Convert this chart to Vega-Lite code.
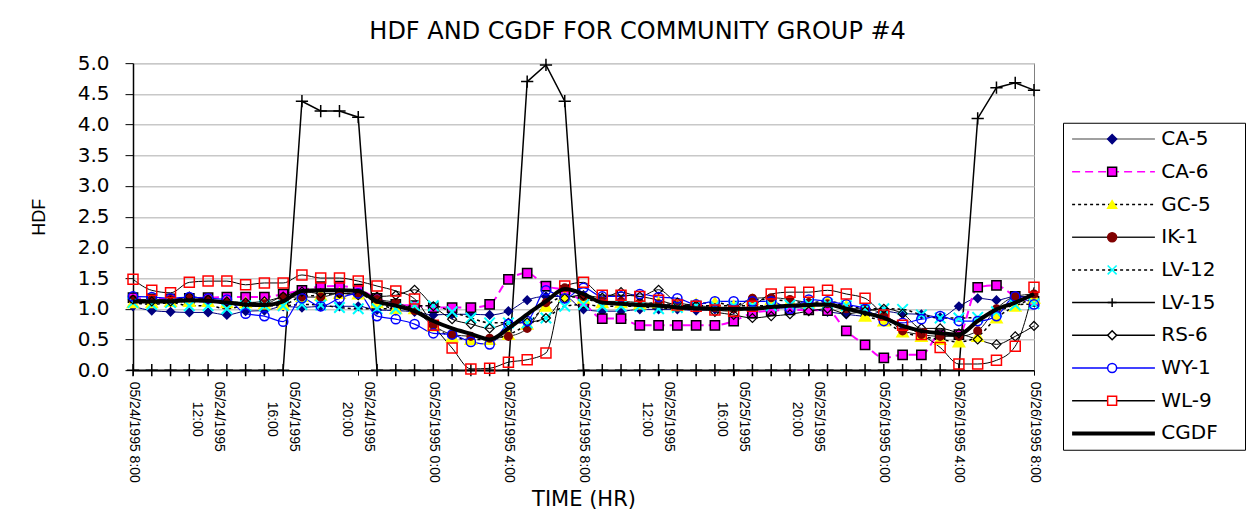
{
  "$schema": "https://vega.github.io/schema/vega-lite/v6.json",
  "background": "white",
  "padding": {"left": 29, "top": 19, "right": 1, "bottom": 8},
  "title": {"text": "HDF AND CGDF FOR COMMUNITY GROUP #4", "font": "DejaVu Sans", "fontSize": 24, "fontWeight": "normal", "color": "black", "anchor": "middle", "offset": 9},
  "datasets": {
    "main": [
      {"t":"1995-05-24T08:00","CA-5":1.04,"CA-6":1.18,"GC-5":1.10,"IK-1":1.15,"LV-12":1.10,"LV-15":0,"RS-6":1.15,"WY-1":1.20,"WL-9":1.48,"CGDF":1.12},
      {"t":"1995-05-24T09:00","CA-5":0.97,"CA-6":1.16,"GC-5":1.10,"IK-1":1.15,"LV-12":1.07,"LV-15":0,"RS-6":1.12,"WY-1":1.19,"WL-9":1.30,"CGDF":1.12},
      {"t":"1995-05-24T10:00","CA-5":0.95,"CA-6":1.16,"GC-5":1.12,"IK-1":1.15,"LV-12":1.10,"LV-15":0,"RS-6":1.12,"WY-1":1.17,"WL-9":1.26,"CGDF":1.12},
      {"t":"1995-05-24T11:00","CA-5":0.94,"CA-6":1.17,"GC-5":1.12,"IK-1":1.19,"LV-12":1.05,"LV-15":0,"RS-6":1.20,"WY-1":1.19,"WL-9":1.43,"CGDF":1.14},
      {"t":"1995-05-24T12:00","CA-5":0.94,"CA-6":1.18,"GC-5":1.12,"IK-1":1.15,"LV-12":1.05,"LV-15":0,"RS-6":1.15,"WY-1":1.17,"WL-9":1.45,"CGDF":1.13},
      {"t":"1995-05-24T13:00","CA-5":0.90,"CA-6":1.19,"GC-5":1.10,"IK-1":1.10,"LV-12":1.00,"LV-15":0,"RS-6":1.12,"WY-1":1.15,"WL-9":1.45,"CGDF":1.10},
      {"t":"1995-05-24T14:00","CA-5":0.96,"CA-6":1.19,"GC-5":1.10,"IK-1":1.08,"LV-12":1.05,"LV-15":0,"RS-6":1.10,"WY-1":0.92,"WL-9":1.39,"CGDF":1.07},
      {"t":"1995-05-24T15:00","CA-5":0.97,"CA-6":1.19,"GC-5":1.08,"IK-1":1.08,"LV-12":1.05,"LV-15":0,"RS-6":1.12,"WY-1":0.88,"WL-9":1.42,"CGDF":1.06},
      {"t":"1995-05-24T16:00","CA-5":1.04,"CA-6":1.24,"GC-5":1.07,"IK-1":1.19,"LV-12":1.05,"LV-15":0,"RS-6":1.20,"WY-1":0.79,"WL-9":1.42,"CGDF":1.12},
      {"t":"1995-05-24T17:00","CA-5":1.02,"CA-6":1.30,"GC-5":1.20,"IK-1":1.19,"LV-12":1.07,"LV-15":4.38,"RS-6":1.28,"WY-1":1.17,"WL-9":1.55,"CGDF":1.29},
      {"t":"1995-05-24T18:00","CA-5":1.04,"CA-6":1.36,"GC-5":1.22,"IK-1":1.19,"LV-12":1.06,"LV-15":4.22,"RS-6":1.25,"WY-1":1.04,"WL-9":1.50,"CGDF":1.30},
      {"t":"1995-05-24T19:00","CA-5":1.04,"CA-6":1.37,"GC-5":1.25,"IK-1":1.25,"LV-12":1.02,"LV-15":4.22,"RS-6":1.25,"WY-1":1.17,"WL-9":1.50,"CGDF":1.30},
      {"t":"1995-05-24T20:00","CA-5":1.04,"CA-6":1.32,"GC-5":1.24,"IK-1":1.24,"LV-12":1.00,"LV-15":4.12,"RS-6":1.22,"WY-1":1.25,"WL-9":1.45,"CGDF":1.29},
      {"t":"1995-05-24T21:00","CA-5":0.98,"CA-6":1.17,"GC-5":1.10,"IK-1":1.15,"LV-12":1.00,"LV-15":0,"RS-6":1.20,"WY-1":0.88,"WL-9":1.37,"CGDF":1.12},
      {"t":"1995-05-24T22:00","CA-5":0.97,"CA-6":1.07,"GC-5":1.00,"IK-1":1.10,"LV-12":1.00,"LV-15":0,"RS-6":1.22,"WY-1":0.83,"WL-9":1.29,"CGDF":1.05},
      {"t":"1995-05-24T23:00","CA-5":0.95,"CA-6":1.05,"GC-5":1.00,"IK-1":0.97,"LV-12":1.05,"LV-15":0,"RS-6":1.31,"WY-1":0.75,"WL-9":1.16,"CGDF":0.96},
      {"t":"1995-05-25T00:00","CA-5":0.90,"CA-6":1.02,"GC-5":0.72,"IK-1":0.73,"LV-12":1.05,"LV-15":0,"RS-6":1.04,"WY-1":0.60,"WL-9":0.73,"CGDF":0.80},
      {"t":"1995-05-25T01:00","CA-5":0.91,"CA-6":1.02,"GC-5":0.54,"IK-1":0.58,"LV-12":0.95,"LV-15":0,"RS-6":0.83,"WY-1":0.58,"WL-9":0.36,"CGDF":0.68},
      {"t":"1995-05-25T02:00","CA-5":0.91,"CA-6":1.02,"GC-5":0.50,"IK-1":0.55,"LV-12":0.85,"LV-15":0,"RS-6":0.75,"WY-1":0.46,"WL-9":0.02,"CGDF":0.59},
      {"t":"1995-05-25T03:00","CA-5":0.90,"CA-6":1.07,"GC-5":0.50,"IK-1":0.52,"LV-12":0.77,"LV-15":0,"RS-6":0.68,"WY-1":0.42,"WL-9":0.03,"CGDF":0.50},
      {"t":"1995-05-25T04:00","CA-5":0.96,"CA-6":1.48,"GC-5":0.58,"IK-1":0.55,"LV-12":0.77,"LV-15":0,"RS-6":0.77,"WY-1":0.75,"WL-9":0.13,"CGDF":0.68},
      {"t":"1995-05-25T05:00","CA-5":1.14,"CA-6":1.58,"GC-5":0.75,"IK-1":0.68,"LV-12":0.77,"LV-15":4.70,"RS-6":0.78,"WY-1":0.80,"WL-9":0.17,"CGDF":0.91},
      {"t":"1995-05-25T06:00","CA-5":1.20,"CA-6":1.37,"GC-5":1.04,"IK-1":1.10,"LV-12":0.85,"LV-15":4.97,"RS-6":0.85,"WY-1":1.30,"WL-9":0.28,"CGDF":1.12},
      {"t":"1995-05-25T07:00","CA-5":1.20,"CA-6":1.30,"GC-5":1.20,"IK-1":1.34,"LV-12":1.04,"LV-15":4.38,"RS-6":1.17,"WY-1":1.17,"WL-9":1.37,"CGDF":1.32},
      {"t":"1995-05-25T08:00","CA-5":0.99,"CA-6":1.10,"GC-5":1.17,"IK-1":1.20,"LV-12":1.07,"LV-15":0,"RS-6":1.22,"WY-1":1.34,"WL-9":1.43,"CGDF":1.24},
      {"t":"1995-05-25T09:00","CA-5":0.96,"CA-6":0.84,"GC-5":1.10,"IK-1":1.12,"LV-12":1.04,"LV-15":0,"RS-6":1.18,"WY-1":1.20,"WL-9":1.22,"CGDF":1.10},
      {"t":"1995-05-25T10:00","CA-5":0.96,"CA-6":0.84,"GC-5":1.10,"IK-1":1.12,"LV-12":1.04,"LV-15":0,"RS-6":1.27,"WY-1":1.20,"WL-9":1.22,"CGDF":1.08},
      {"t":"1995-05-25T11:00","CA-5":0.99,"CA-6":0.73,"GC-5":1.08,"IK-1":1.10,"LV-12":1.04,"LV-15":0,"RS-6":1.20,"WY-1":1.24,"WL-9":1.20,"CGDF":1.06},
      {"t":"1995-05-25T12:00","CA-5":0.99,"CA-6":0.73,"GC-5":1.10,"IK-1":1.08,"LV-12":1.00,"LV-15":0,"RS-6":1.31,"WY-1":1.19,"WL-9":1.14,"CGDF":1.05},
      {"t":"1995-05-25T13:00","CA-5":0.99,"CA-6":0.73,"GC-5":1.05,"IK-1":1.05,"LV-12":1.02,"LV-15":0,"RS-6":1.10,"WY-1":1.17,"WL-9":1.06,"CGDF":1.02},
      {"t":"1995-05-25T14:00","CA-5":0.97,"CA-6":0.73,"GC-5":1.08,"IK-1":1.05,"LV-12":1.05,"LV-15":0,"RS-6":1.05,"WY-1":1.07,"WL-9":1.04,"CGDF":1.01},
      {"t":"1995-05-25T15:00","CA-5":0.99,"CA-6":0.73,"GC-5":1.10,"IK-1":1.02,"LV-12":1.05,"LV-15":0,"RS-6":0.95,"WY-1":1.12,"WL-9":0.98,"CGDF":1.00},
      {"t":"1995-05-25T16:00","CA-5":0.99,"CA-6":0.80,"GC-5":1.05,"IK-1":1.00,"LV-12":1.05,"LV-15":0,"RS-6":0.90,"WY-1":1.12,"WL-9":0.96,"CGDF":1.00},
      {"t":"1995-05-25T17:00","CA-5":1.00,"CA-6":0.93,"GC-5":1.15,"IK-1":1.17,"LV-12":1.05,"LV-15":0,"RS-6":0.85,"WY-1":1.12,"WL-9":1.04,"CGDF":1.00},
      {"t":"1995-05-25T18:00","CA-5":1.00,"CA-6":0.97,"GC-5":1.15,"IK-1":1.18,"LV-12":1.05,"LV-15":0,"RS-6":0.88,"WY-1":1.12,"WL-9":1.24,"CGDF":1.03},
      {"t":"1995-05-25T19:00","CA-5":1.02,"CA-6":0.98,"GC-5":1.12,"IK-1":1.15,"LV-12":1.06,"LV-15":0,"RS-6":0.91,"WY-1":1.00,"WL-9":1.27,"CGDF":1.05},
      {"t":"1995-05-25T20:00","CA-5":1.00,"CA-6":0.98,"GC-5":1.10,"IK-1":1.10,"LV-12":1.08,"LV-15":0,"RS-6":0.96,"WY-1":1.15,"WL-9":1.27,"CGDF":1.06},
      {"t":"1995-05-25T21:00","CA-5":0.95,"CA-6":0.97,"GC-5":1.12,"IK-1":1.08,"LV-12":1.08,"LV-15":0,"RS-6":1.00,"WY-1":1.12,"WL-9":1.30,"CGDF":1.07},
      {"t":"1995-05-25T22:00","CA-5":0.91,"CA-6":0.64,"GC-5":1.05,"IK-1":1.00,"LV-12":1.05,"LV-15":0,"RS-6":0.92,"WY-1":1.07,"WL-9":1.24,"CGDF":1.00},
      {"t":"1995-05-25T23:00","CA-5":0.88,"CA-6":0.41,"GC-5":0.88,"IK-1":1.00,"LV-12":1.00,"LV-15":0,"RS-6":0.96,"WY-1":1.00,"WL-9":1.17,"CGDF":0.93},
      {"t":"1995-05-26T00:00","CA-5":0.96,"CA-6":0.20,"GC-5":0.80,"IK-1":0.90,"LV-12":1.00,"LV-15":0,"RS-6":1.00,"WY-1":0.80,"WL-9":0.90,"CGDF":0.85},
      {"t":"1995-05-26T01:00","CA-5":0.92,"CA-6":0.25,"GC-5":0.62,"IK-1":0.64,"LV-12":0.99,"LV-15":0,"RS-6":0.92,"WY-1":0.77,"WL-9":0.73,"CGDF":0.72},
      {"t":"1995-05-26T02:00","CA-5":0.91,"CA-6":0.25,"GC-5":0.55,"IK-1":0.58,"LV-12":0.90,"LV-15":0,"RS-6":0.68,"WY-1":0.83,"WL-9":0.58,"CGDF":0.64},
      {"t":"1995-05-26T03:00","CA-5":0.86,"CA-6":0.58,"GC-5":0.50,"IK-1":0.55,"LV-12":0.85,"LV-15":0,"RS-6":0.68,"WY-1":0.88,"WL-9":0.37,"CGDF":0.60},
      {"t":"1995-05-26T04:00","CA-5":1.04,"CA-6":0.58,"GC-5":0.46,"IK-1":0.55,"LV-12":0.85,"LV-15":0,"RS-6":0.60,"WY-1":0.80,"WL-9":0.10,"CGDF":0.58},
      {"t":"1995-05-26T05:00","CA-5":1.17,"CA-6":1.35,"GC-5":0.55,"IK-1":0.64,"LV-12":0.86,"LV-15":4.10,"RS-6":0.50,"WY-1":0.80,"WL-9":0.10,"CGDF":0.80},
      {"t":"1995-05-26T06:00","CA-5":1.14,"CA-6":1.38,"GC-5":0.85,"IK-1":1.00,"LV-12":0.95,"LV-15":4.60,"RS-6":0.42,"WY-1":0.88,"WL-9":0.16,"CGDF":0.99},
      {"t":"1995-05-26T07:00","CA-5":1.20,"CA-6":1.20,"GC-5":1.04,"IK-1":1.20,"LV-12":1.06,"LV-15":4.68,"RS-6":0.55,"WY-1":1.20,"WL-9":0.39,"CGDF":1.10},
      {"t":"1995-05-26T08:00","CA-5":1.20,"CA-6":1.12,"GC-5":1.17,"IK-1":1.24,"LV-12":1.08,"LV-15":4.56,"RS-6":0.72,"WY-1":1.07,"WL-9":1.35,"CGDF":1.24}
    ]
  },
  "hconcat": [
    {
      "width": 901,
      "height": 307,
      "data": {"name": "main"},
      "transform": [
        {"fold": ["CA-5","CA-6","GC-5","IK-1","LV-12","LV-15","RS-6","WY-1","WL-9","CGDF"], "as": ["s","v"]}
      ],
      "encoding": {
        "y": {
          "field": "v", "type": "quantitative",
          "scale": {"domain": [0, 5], "nice": false},
          "axis": {
            "title": "HDF", "titleFont": "Liberation Sans", "titleFontSize": 18, "titleFontWeight": "normal", "titleColor": "black", "titlePadding": 29,
            "values": [0,0.5,1,1.5,2,2.5,3,3.5,4,4.5,5], "format": ".1f",
            "labelFont": "DejaVu Sans", "labelFontSize": 20, "labelColor": "black", "labelPadding": 16,
            "grid": true, "gridColor": "#c8c8c8", "gridWidth": 1.5,
            "domainColor": "black", "domainWidth": 1.5, "tickColor": "black", "tickSize": 8
          }
        }
      },
      "layer": [
        {
          "encoding": {
            "x": {
              "field": "t", "type": "temporal",
              "axis": {
                "orient": "bottom",
                "title": "TIME (HR)", "titleFont": "DejaVu Sans", "titleFontSize": 21, "titleFontWeight": "normal", "titleColor": "black", "titlePadding": 6,
                "values": [
                  {"year":1995,"month":5,"date":24,"hours":8},
                  {"year":1995,"month":5,"date":25,"hours":0},
                  {"year":1995,"month":5,"date":25,"hours":4},
                  {"year":1995,"month":5,"date":25,"hours":8},
                  {"year":1995,"month":5,"date":26,"hours":0},
                  {"year":1995,"month":5,"date":26,"hours":4},
                  {"year":1995,"month":5,"date":26,"hours":8}
                ],
                "format": "%m/%d/%Y %-H:%M",
                "labelAngle": 90,
                "labelFont": "Liberation Sans", "labelFontSize": 14, "labelColor": "black",
                "labelPadding": 6,
                "grid": false, "domainColor": "black", "domainWidth": 1.5, "tickColor": "black", "tickSize": 5
              }
            }
          },
          "layer": [
            {"transform": [{"filter": "datum.s == 'CA-5'"}], "mark": {"type": "line", "interpolate": "monotone", "stroke": "#000080", "strokeWidth": 1}, "encoding": {}},
            {"transform": [{"filter": "datum.s == 'CA-6'"}], "mark": {"type": "line", "interpolate": "monotone", "stroke": "#ff00ff", "strokeWidth": 2, "strokeDash": [8, 5]}, "encoding": {}},
            {"transform": [{"filter": "datum.s == 'GC-5'"}], "mark": {"type": "line", "interpolate": "monotone", "stroke": "#000000", "strokeWidth": 1.5, "strokeDash": [3, 3]}, "encoding": {}},
            {"transform": [{"filter": "datum.s == 'IK-1'"}], "mark": {"type": "line", "interpolate": "monotone", "stroke": "#202020", "strokeWidth": 1}, "encoding": {}},
            {"transform": [{"filter": "datum.s == 'LV-12'"}], "mark": {"type": "line", "interpolate": "monotone", "stroke": "#000000", "strokeWidth": 1.5, "strokeDash": [3, 3]}, "encoding": {}},
            {"transform": [{"filter": "datum.s == 'LV-15'"}], "mark": {"type": "line", "interpolate": "linear", "stroke": "#000000", "strokeWidth": 1.5}, "encoding": {}},
            {"transform": [{"filter": "datum.s == 'RS-6'"}], "mark": {"type": "line", "interpolate": "monotone", "stroke": "#000000", "strokeWidth": 1}, "encoding": {}},
            {"transform": [{"filter": "datum.s == 'WY-1'"}], "mark": {"type": "line", "interpolate": "monotone", "stroke": "#0000ff", "strokeWidth": 1.2}, "encoding": {}},
            {"transform": [{"filter": "datum.s == 'WL-9'"}], "mark": {"type": "line", "interpolate": "monotone", "stroke": "#000000", "strokeWidth": 1}, "encoding": {}},
            {"transform": [{"filter": "datum.s == 'CA-5'"}], "mark": {"type": "point", "shape": "diamond", "size": 55, "filled": true, "fill": "#000080", "stroke": "#000080", "opacity": 1}, "encoding": {}},
            {"transform": [{"filter": "datum.s == 'CA-6'"}], "mark": {"type": "point", "shape": "square", "size": 85, "filled": true, "fill": "#ff00ff", "stroke": "#000000", "strokeWidth": 1.5, "opacity": 1}, "encoding": {}},
            {"transform": [{"filter": "datum.s == 'GC-5'"}], "mark": {"type": "point", "shape": "triangle-up", "size": 110, "filled": true, "fill": "#ffff00", "stroke": "#ffff00", "opacity": 1}, "encoding": {}},
            {"transform": [{"filter": "datum.s == 'IK-1'"}], "mark": {"type": "point", "shape": "circle", "size": 50, "filled": true, "fill": "#800000", "stroke": "#800000", "opacity": 1}, "encoding": {}},
            {"transform": [{"filter": "datum.s == 'LV-12'"}], "mark": {"type": "point", "shape": "M-1,-1L1,1M-1,1L1,-1", "size": 110, "filled": false, "stroke": "#00ffff", "strokeWidth": 2, "opacity": 1}, "encoding": {}},
            {"transform": [{"filter": "datum.s == 'LV-15'"}], "mark": {"type": "point", "shape": "M-1,0H1M0,-1V1", "size": 150, "filled": false, "stroke": "#000000", "strokeWidth": 1.5, "opacity": 1}, "encoding": {}},
            {"transform": [{"filter": "datum.s == 'RS-6'"}], "mark": {"type": "point", "shape": "diamond", "size": 80, "filled": false, "stroke": "#000000", "strokeWidth": 1.2, "opacity": 1}, "encoding": {}},
            {"transform": [{"filter": "datum.s == 'WY-1'"}], "mark": {"type": "point", "shape": "circle", "size": 85, "filled": false, "stroke": "#0000ff", "strokeWidth": 1.5, "opacity": 1}, "encoding": {}},
            {"transform": [{"filter": "datum.s == 'WL-9'"}], "mark": {"type": "point", "shape": "square", "size": 100, "filled": false, "stroke": "#ff0000", "strokeWidth": 1.5, "opacity": 1}, "encoding": {}},
            {"transform": [{"filter": "datum.s == 'CGDF'"}], "mark": {"type": "line", "interpolate": "monotone", "stroke": "#000000", "strokeWidth": 4}, "encoding": {}}
          ]
        },
        {
          "transform": [{"filter": "datum.s == 'LV-15'"}],
          "mark": {"type": "point", "opacity": 0},
          "encoding": {
            "x": {
              "field": "t", "type": "temporal",
              "axis": {
                "orient": "bottom", "title": null,
                "values": [
                  {"year":1995,"month":5,"date":24,"hours":12},
                  {"year":1995,"month":5,"date":24,"hours":16},
                  {"year":1995,"month":5,"date":24,"hours":20},
                  {"year":1995,"month":5,"date":25,"hours":12},
                  {"year":1995,"month":5,"date":25,"hours":16},
                  {"year":1995,"month":5,"date":25,"hours":20}
                ],
                "format": "%m/%d/%Y",
                "labelAngle": 90, "labelOffset": 10,
                "labelFont": "Liberation Sans", "labelFontSize": 14, "labelColor": "black",
                "labelPadding": 6,
                "grid": false, "domain": false, "tickColor": "black", "tickSize": 5
              }
            }
          }
        },
        {
          "transform": [{"filter": "datum.s == 'LV-15'"}],
          "mark": {"type": "point", "opacity": 0},
          "encoding": {
            "x": {
              "field": "t", "type": "temporal",
              "axis": {
                "orient": "bottom", "title": null,
                "values": [
                  {"year":1995,"month":5,"date":24,"hours":12},
                  {"year":1995,"month":5,"date":24,"hours":16},
                  {"year":1995,"month":5,"date":24,"hours":20},
                  {"year":1995,"month":5,"date":25,"hours":12},
                  {"year":1995,"month":5,"date":25,"hours":16},
                  {"year":1995,"month":5,"date":25,"hours":20}
                ],
                "format": "%-H:%M",
                "labelAngle": 90, "labelOffset": -12,
                "labelFont": "Liberation Sans", "labelFontSize": 14, "labelColor": "black",
                "labelPadding": 26,
                "grid": false, "domain": false, "tickColor": "black", "tickSize": 5, "tickOpacity": 0
              }
            }
          }
        }
      ],
      "resolve": {"axis": {"x": "independent"}}
    },
    {
      "width": 182,
      "height": 327,
      "view": {"stroke": "black", "strokeWidth": 1},
      "data": {"values": [
        {"s":"CA-5"},{"s":"CA-6"},{"s":"GC-5"},{"s":"IK-1"},{"s":"LV-12"},{"s":"LV-15"},{"s":"RS-6"},{"s":"WY-1"},{"s":"WL-9"},{"s":"CGDF"}
      ]},
      "encoding": {
        "y": {"field": "s", "type": "nominal", "axis": null,
          "scale": {"type": "point", "padding": 0.5, "domain": ["CA-5","CA-6","GC-5","IK-1","LV-12","LV-15","RS-6","WY-1","WL-9","CGDF"]}}
      },
      "layer": [
        {
          "transform": [{"filter": "datum.s != 'CGDF'"}],
          "mark": {"type": "rule", "strokeWidth": 1.5},
          "encoding": {
            "x": {"datum": 0.05, "type": "quantitative", "scale": {"domain": [0, 1]}, "axis": null},
            "x2": {"datum": 0.505},
            "stroke": {"field": "s", "type": "nominal", "legend": null,
              "scale": {"domain": ["CA-5","CA-6","GC-5","IK-1","LV-12","LV-15","RS-6","WY-1","WL-9"], "range": ["#808080","#ff00ff","#000000","#202020","#000000","#000000","#000000","#0000ff","#000000"]}},
            "strokeDash": {"field": "s", "type": "nominal", "legend": null,
              "scale": {"domain": ["CA-5","CA-6","GC-5","IK-1","LV-12","LV-15","RS-6","WY-1","WL-9"], "range": [[1,0],[8,5],[3,3],[1,0],[3,3],[1,0],[1,0],[1,0],[1,0]]}}
          }
        },
        {
          "transform": [{"filter": "datum.s == 'CGDF'"}],
          "mark": {"type": "rule", "strokeWidth": 4, "stroke": "black"},
          "encoding": {
            "x": {"datum": 0.05, "type": "quantitative", "scale": {"domain": [0, 1]}, "axis": null},
            "x2": {"datum": 0.505}
          }
        },
        {
          "transform": [{"filter": "datum.s != 'CGDF'"}],
          "mark": {"type": "point", "opacity": 1, "size": 80, "strokeWidth": 1.5},
          "encoding": {
            "x": {"datum": 0.27, "type": "quantitative", "scale": {"domain": [0, 1]}, "axis": null},
            "shape": {"field": "s", "type": "nominal", "legend": null,
              "scale": {"domain": ["CA-5","CA-6","GC-5","IK-1","LV-12","LV-15","RS-6","WY-1","WL-9"], "range": ["diamond","square","triangle-up","circle","M-1,-1L1,1M-1,1L1,-1","M-1,0H1M0,-1V1","diamond","circle","square"]}},
            "fill": {"field": "s", "type": "nominal", "legend": null,
              "scale": {"domain": ["CA-5","CA-6","GC-5","IK-1","LV-12","LV-15","RS-6","WY-1","WL-9"], "range": ["#000080","#ff00ff","#ffff00","#800000","#ffffff","#ffffff","#ffffff","#ffffff","#ffffff"]}},
            "stroke": {"field": "s", "type": "nominal", "legend": null,
              "scale": {"domain": ["CA-5","CA-6","GC-5","IK-1","LV-12","LV-15","RS-6","WY-1","WL-9"], "range": ["#000080","#000000","#ffff00","#800000","#00ffff","#000000","#000000","#0000ff","#ff0000"]}}
          }
        },
        {
          "mark": {"type": "text", "align": "left", "baseline": "middle", "font": "DejaVu Sans", "fontSize": 20, "color": "black"},
          "encoding": {
            "x": {"datum": 0.54, "type": "quantitative", "scale": {"domain": [0, 1]}, "axis": null},
            "text": {"field": "s", "type": "nominal"}
          }
        }
      ],
      "resolve": {"scale": {"stroke": "independent"}}
    }
  ],
  "spacing": 18,
  "center": true,
  "resolve": {"scale": {"x": "independent", "y": "independent"}},
  "config": {
    "font": "DejaVu Sans",
    "view": {"stroke": "#808080", "strokeWidth": 1}
  }
}
